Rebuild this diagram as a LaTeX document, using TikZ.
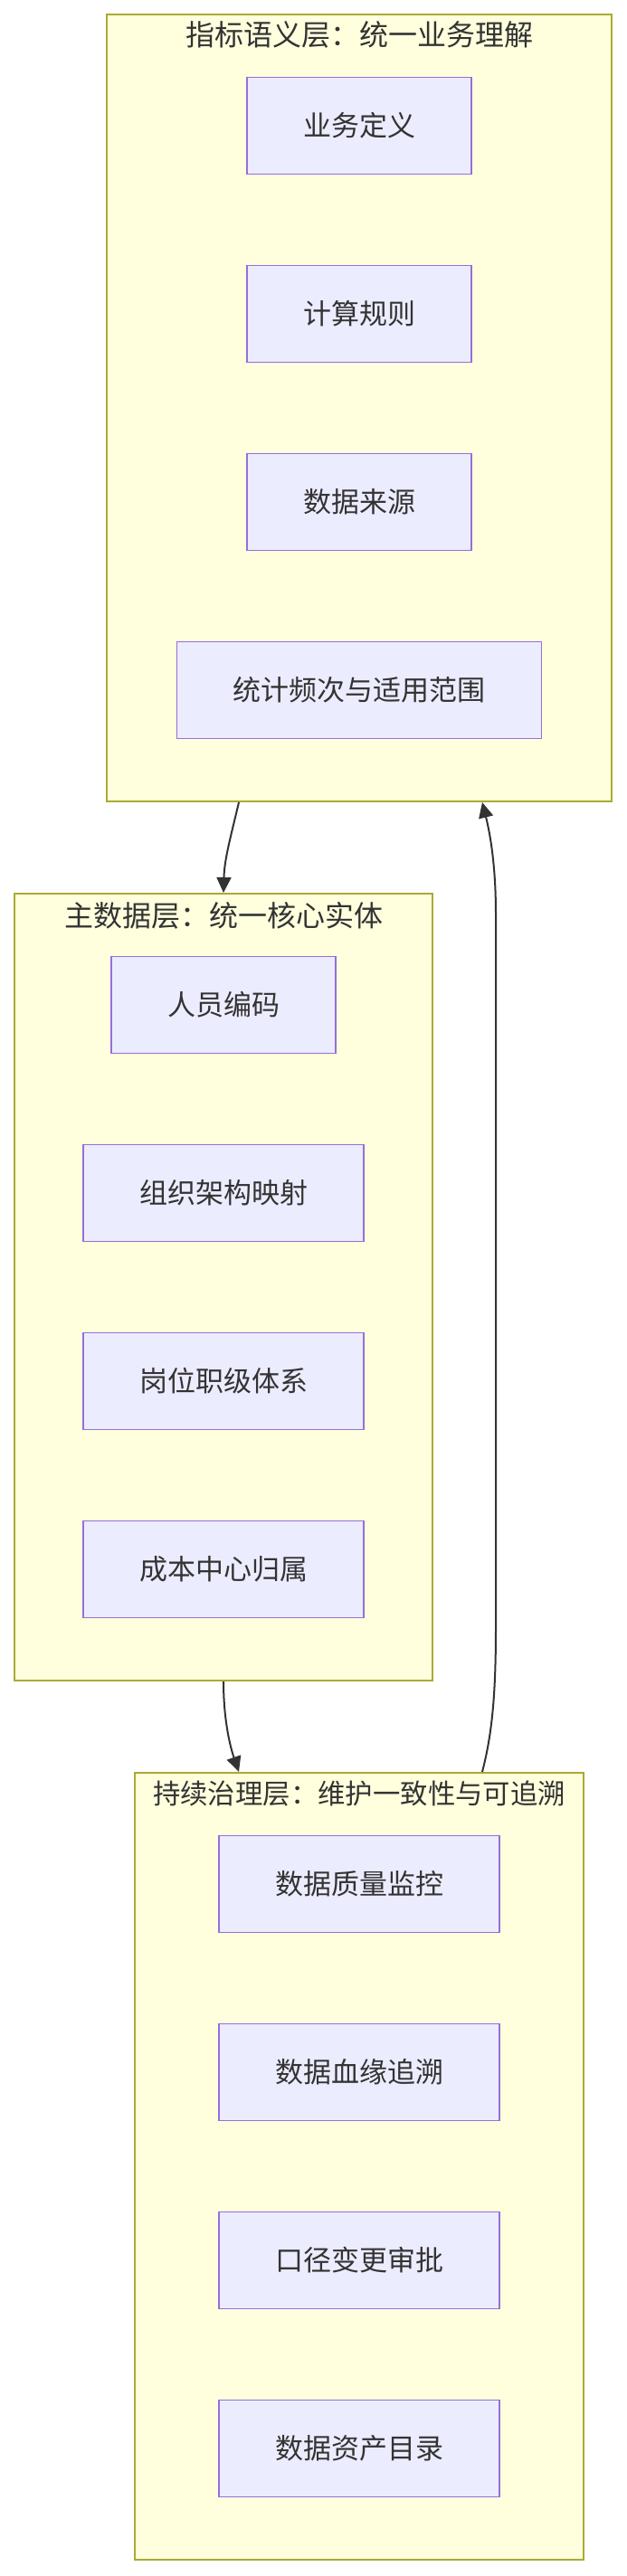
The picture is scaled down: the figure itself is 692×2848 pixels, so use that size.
\documentclass[tikz,border=0pt]{standalone}
\usepackage{fontspec}
\setmainfont{Noto Sans CJK SC}
\usepackage{tikz}
\usetikzlibrary{arrows.meta}
\definecolor{clusterfill}{HTML}{FFFFDE}
\definecolor{clusterline}{HTML}{AAAA33}
\definecolor{itemfill}{HTML}{ECECFF}
\definecolor{itemline}{HTML}{9370DB}
\definecolor{inktext}{HTML}{333333}
\newcommand{\layerheight}{435pt}
\newcommand{\itemheight}{53.5pt}
\newcommand{\itemstep}{208}
\tikzstyle{layer}=[draw=clusterline, fill=clusterfill, line width=1pt, inner sep=0, minimum height=\layerheight]
\tikzstyle{layertitle}=[text=inktext, inner sep=0, font=\fontsize{16}{19}\selectfont]
\tikzstyle{item}=[draw=itemline, fill=itemfill, line width=0.75pt, text=inktext, inner ysep=0, inner xsep=31pt,
                  minimum height=\itemheight, font=\fontsize{15.5}{18}\selectfont]
\tikzstyle{flow}=[draw=inktext, line width=1pt, -{Triangle[length=8.5pt, width=8pt]}]
\begin{document}
\begin{tikzpicture}[x=0.5pt, y=-0.5pt]
        \useasboundingbox (0, 0) rectangle (692, 2848);
        % Layers.
        \node[layer, minimum width=279pt] (sem) at (397, 451) {};
        \node[layer, minimum width=231pt] (mdm) at (247, 1423) {};
        \node[layer, minimum width=248pt] (gov) at (397, 2395) {};
        \node[layertitle] (semtitle) at (397, 38) {指标语义层：统一业务理解};
        \node[layertitle] (mdmtitle) at (247, 1012) {主数据层：统一核心实体};
        \node[layertitle, font=\fontsize{15.2}{18}\selectfont] (govtitle) at (397, 1983) {持续治理层：维护一致性与可追溯};
        % Items inside each layer.
        \foreach \txt [count=\i] in {业务定义, 计算规则, 数据来源, 统计频次与适用范围}
            \node[item] (sem\i) at (397, 139 + \itemstep*\i - \itemstep) {\txt};
        \foreach \txt [count=\i] in {人员编码, 组织架构映射, 岗位职级体系, 成本中心归属}
            \node[item] (mdm\i) at (247, 1111 + \itemstep*\i - \itemstep) {\txt};
        \foreach \txt [count=\i] in {数据质量监控, 数据血缘追溯, 口径变更审批, 数据资产目录}
            \node[item] (gov\i) at (397, 2083 + \itemstep*\i - \itemstep) {\txt};
        % Connectors between layers.
        \coordinate (downcol) at (264, 0);
        \coordinate (backcol) at (533, 0);
        \draw[flow] (sem.south -| downcol) .. controls (255, 925) and (248, 950) .. (mdm.north);
        \draw[flow] (mdm.south) .. controls (247, 1900) and (254, 1930) .. (gov.north -| downcol);
        \draw[flow] (gov.north -| backcol) .. controls (543, 1920) and (548, 1880) .. (548, 1800)
            -- (548, 1010) .. controls (548, 950) and (540, 915) .. (sem.south -| backcol);
    \end{tikzpicture}
\end{document}
